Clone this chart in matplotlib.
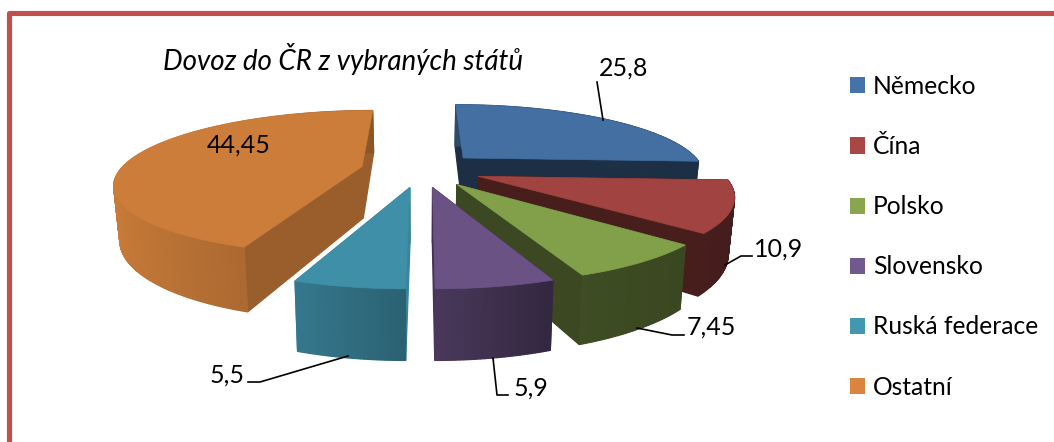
import numpy as np
import matplotlib
matplotlib.use("Agg")
import matplotlib.pyplot as plt
from matplotlib.patches import Patch

plt.rcParams['font.family'] = ['Lato', 'DejaVu Sans']

# ---- data ----
categories = ["Německo", "Čína", "Polsko", "Slovensko", "Ruská federace", "Ostatní"]
values = [25.8, 10.9, 7.45, 5.9, 5.5, 44.45]
value_labels = ["25,8", "10,9", "7,45", "5,9", "5,5", "44,45"]
title = "Dovoz do ČR z vybraných států"

# ---- style ----
legend_colors = ["#4573a7", "#aa4644", "#89a54e", "#71588f", "#4198af", "#db843d"]
top_colors = ["#436fa2", "#a04341", "#82a04a", "#6b5285", "#3f8fa8", "#cc7d3a"]
radial_shade = [0.42, 0.45, 0.45, 0.62, 0.92, 0.75]
shade_x = [-1.0, -0.34, 0.0, 0.36, 1.0]
shade_v = [1.0, 0.84, 0.68, 0.48, 0.42]
border = "#c0504d"

CX, CY = 421, 169.5
RX, RY = 241.5, 69.5
PERSP = 0.22
EXPLODE = 0.25
DEPTH = 52
SHRINK = 0.98

label_pos = [(624, 68), (779, 249), (711, 327), (531, 388), (227, 375), (239, 145)]
leaders = [[(603, 120), (597, 82)],
           [(725, 265), (741, 256), (752, 256)],
           [(637, 328), (672, 335), (684, 335)],
           [(493, 358), (497, 395), (508, 395)],
           [(348, 356), (260, 382), (248, 382)],
           None]


def project(X, Y, low=False):
    X, Y = np.asarray(X, float), np.asarray(Y, float)
    s = 1.0 / (1.0 + PERSP * Y)
    x = RX * X * s
    y = CY - RY * Y * s
    if low:
        return CX + x * SHRINK, y + DEPTH * s
    return CX + x, y


def rgb(c):
    return np.array(matplotlib.colors.to_rgb(c))


fig = plt.figure(figsize=(10.54, 4.42), dpi=100)
ax = fig.add_axes([0, 0, 1, 1])
ax.set_xlim(0, 1054)
ax.set_ylim(442, 0)
ax.axis("off")

# frame of the picture
ax.plot([8.5, 8.5, 1054], [442, 12.5, 12.5], color=border, lw=3.7,
        solid_joinstyle="round", zorder=1, clip_on=False)

edges = np.concatenate([[0], np.cumsum(values)]) / np.sum(values) * 2 * np.pi
mids = (edges[:-1] + edges[1:]) / 2
offs = np.c_[EXPLODE * np.sin(mids), EXPLODE * np.cos(mids)]
order = np.argsort(-offs[:, 1])


def quad(X0, Y0, X1, Y1, color, z):
    xa, ya = project([X0, X1], [Y0, Y1])
    xb, yb = project([X1, X0], [Y1, Y0], low=True)
    ax.fill(np.r_[xa, xb], np.r_[ya, yb], color=color, lw=0.9, zorder=z)


z = 2.0
for i in order:
    base = rgb(top_colors[i])
    ox, oy = offs[i]
    a = np.linspace(edges[i], edges[i + 1], max(8, int((edges[i + 1] - edges[i]) / 0.012)))
    XX, YY = ox + np.sin(a), oy + np.cos(a)
    rad = base * radial_shade[i]
    # inner faces, the one further back first
    walls = sorted([(XX[0], YY[0]), (XX[-1], YY[-1])], key=lambda p: -p[1])
    for wx, wy in walls:
        quad(ox, oy, wx, wy, rad, z)
    # outer wall, back to front
    idx = np.argsort(-(YY[:-1] + YY[1:]))
    for k in idx:
        sx = np.sin((a[k] + a[k + 1]) / 2)
        f = np.interp(sx, shade_x, shade_v)
        quad(XX[k], YY[k], XX[k + 1], YY[k + 1], base * f, z + 0.01)
    # top face
    tx, ty = project(np.r_[ox, XX], np.r_[oy, YY])
    ax.fill(tx, ty, color=base, lw=0.5, zorder=z + 0.02)
    z += 0.1

# leader lines and value labels
for pts in leaders:
    if pts:
        xs, ys = zip(*pts)
        ax.plot(xs, ys, color="black", lw=1.2, zorder=5, solid_joinstyle="round")
for txt, (x, y) in zip(value_labels, label_pos):
    ax.text(x, y, txt, ha="center", va="center", fontsize=18, color="black", zorder=6)

ax.text(343, 59, title, ha="center", va="center", fontsize=20, style="italic", color="black")

handles = [Patch(facecolor=c, edgecolor="none", label=n) for c, n in zip(legend_colors, categories)]
ax.legend(handles=handles, loc="upper left", bbox_to_anchor=(850 / 1054, 1 - 75 / 442),
          frameon=False, fontsize=17.7, handlelength=0.63, handleheight=0.63,
          handletextpad=0.3, labelspacing=1.51, borderpad=0, borderaxespad=0)

fig.savefig("out.png", dpi=100)
